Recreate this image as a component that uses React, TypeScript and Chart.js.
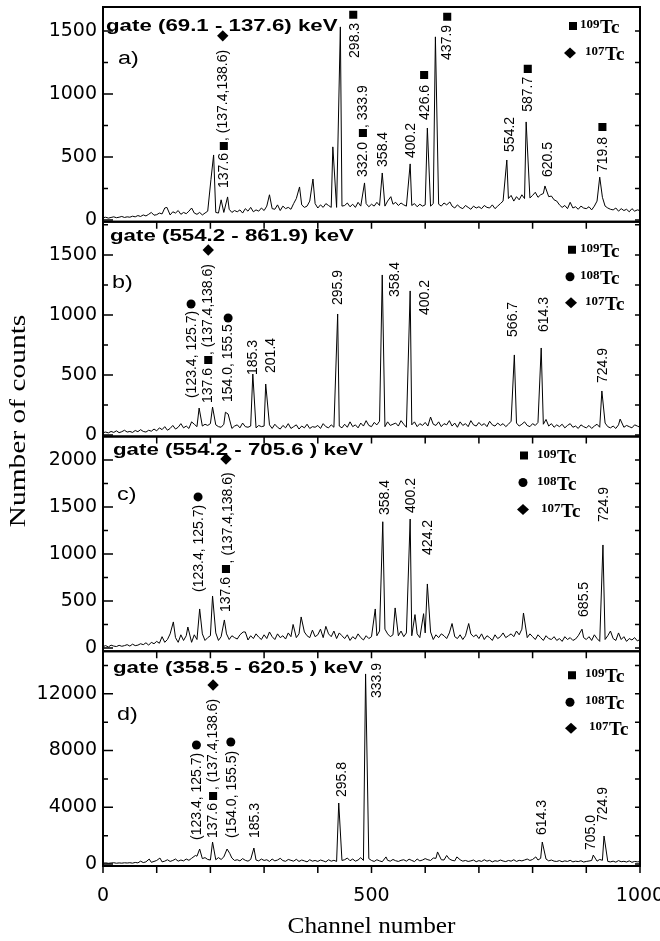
import { useEffect, useRef } from "react";
import { Chart, registerables } from "chart.js";
Chart.register(...registerables);

// ---------------- DATA ----------------
const CH_STEP = 5; // background counts read every 5 channels (channel 0 .. 1000)

const BG_A = [
  18, 22, 15, 20, 25, 18, 22, 28, 20, 25,
  22, 30, 25, 35, 28, 40, 32, 45, 60, 38,
  42, 55, 48, 95, 50, 40, 65, 55, 75, 45,
  60, 50, 70, 95, 55, 45, 60, 40, 55, 70,
  290, 120, 60, 55, 70, 60, 50, 85, 60, 75,
  65, 80, 55, 90, 70, 100, 65, 80, 70, 95,
  75, 110, 70, 90, 85, 120, 75, 110, 90, 100,
  85, 130, 170, 95, 120, 100, 110, 150, 105, 130,
  95, 120, 100, 130, 115, 100, 120, 100, 130, 110,
  115, 135, 105, 125, 100, 140, 110, 120, 130, 105,
  125, 110, 140, 115, 130, 110, 150, 180, 125, 140,
  115, 135, 120, 110, 140, 115, 130, 105, 125, 110,
  120, 100, 110, 130, 115, 125, 110, 135, 120, 143,
  110, 95, 120, 100, 90, 115, 100, 85, 110, 95,
  105, 90, 115, 100, 95, 120, 90, 110, 130, 150,
  200, 170, 195, 150, 185, 160, 200, 170, 210, 175,
  195, 220, 180, 200, 210, 170, 185, 190, 160, 150,
  120, 100, 115, 90, 140, 95, 105, 85, 110, 95,
  90, 105, 80, 110, 150, 130, 180, 110, 95, 85,
  80, 95, 70, 90, 75, 85, 65, 90, 70, 80,
  75,
];
const PEAKS_A: [number, number][] = [
  [119, 100], [201, 320], [206, 516], [220, 160], [232, 183], [310, 200], [366, 262],
  [391, 325], [428, 580], [442, 1532], [487, 294], [520, 373], [536, 185], [572, 445],
  [604, 730], [619, 1453], [646, 143], [752, 476], [788, 778], [823, 270], [925, 340],
];

const BG_B = [
  20, 25, 18, 30, 22, 35, 20, 28, 40, 25,
  30, 22, 38, 28, 45, 30, 25, 40, 32, 50,
  35, 60, 45, 70, 40, 55, 80, 50, 65, 95,
  60, 75, 55, 110, 90, 70, 100, 75, 90, 80,
  95, 60, 85, 70, 65, 90, 60, 80, 55, 75,
  85, 60, 100, 70, 65, 75, 90, 60, 80, 70,
  75, 60, 85, 55, 90, 65, 50, 80, 60, 95,
  55, 70, 85, 50, 75, 60, 90, 55, 70, 65,
  80, 55, 95, 70, 60, 85, 65, 100, 75, 60,
  90, 65, 110, 70, 85, 60, 100, 75, 120, 80,
  70, 105, 85, 115, 95, 70, 110, 80, 90, 100,
  75, 120, 90, 65, 100, 85, 110, 70, 95, 80,
  105, 75, 150, 90, 80, 110, 70, 95, 85, 120,
  75, 100, 65, 110, 80, 95, 70, 120, 85, 75,
  105, 80, 95, 70, 115, 85, 75, 100, 80, 95,
  70, 90, 115, 85, 100, 75, 90, 110, 80, 70,
  95, 80, 105, 70, 90, 130, 75, 95, 65, 85,
  70, 90, 60, 80, 95, 65, 75, 55, 85, 70,
  60, 80, 55, 75, 90, 65, 80, 100, 70, 60,
  75, 55, 85, 90, 65, 80, 70, 60, 85, 75,
  65,
];
const PEAKS_B: [number, number][] = [
  [179, 225], [204, 233], [228, 190], [233, 175], [279, 508], [303, 425], [437, 1008],
  [520, 1333], [572, 1200], [610, 150], [766, 667], [816, 725], [929, 367], [963, 133],
];

const BG_C = [
  15, 25, 10, 30, 20, 15, 28, 18, 25, 35,
  20, 40, 25, 30, 45, 35, 55, 30, 60, 45,
  70, 50, 120, 60, 90, 150, 70, 110, 60, 140,
  80, 130, 100, 60, 140, 90, 120, 150, 80, 110,
  130, 90, 160, 80, 120, 100, 150, 90, 130, 110,
  95, 140, 110, 170, 85, 130, 100, 150, 115, 90,
  140, 100, 170, 120, 90, 150, 110, 130, 95, 160,
  120, 250, 110, 150, 95, 170, 130, 110, 190, 120,
  140, 200, 110, 230, 150, 120, 180, 100, 160, 130,
  100, 140, 80, 120, 95, 150, 110, 85, 130, 100,
  120, 150, 130, 180, 110, 200, 150, 120, 140, 170,
  130, 180, 120, 160, 200, 130, 260, 150, 110, 140,
  160, 120, 170, 90, 140, 110, 150, 130, 100, 160,
  180, 120, 100, 140, 90, 130, 110, 150, 120, 140,
  100, 150, 90, 130, 110, 80, 140, 100, 120, 160,
  110, 130, 150, 120, 180, 140, 200, 130, 110, 150,
  120, 90, 140, 110, 80, 130, 100, 90, 120, 80,
  100, 70, 120, 90, 110, 80, 95, 130, 75, 110,
  90, 120, 80, 140, 100, 70, 110, 90, 130, 180,
  100, 80, 160, 90, 120, 70, 100, 85, 110, 75,
  90,
];
const PEAKS_C: [number, number][] = [
  [131, 277], [158, 223], [180, 415], [204, 553], [226, 298], [261, 170], [354, 250],
  [369, 330], [507, 415], [521, 1343], [544, 426], [572, 1372], [581, 355], [597, 365],
  [604, 681], [650, 260], [681, 260], [783, 372], [892, 200], [931, 1096],
];

const BG_D = [
  60, 80, 50, 70, 90, 55, 75, 60, 85, 70,
  90, 60, 110, 80, 200, 100, 150, 280, 120, 180,
  250, 380, 150, 200, 300, 180, 250, 350, 200, 280,
  220, 350, 260, 400, 300, 550, 280, 380, 450, 320,
  280, 350, 300, 450, 320, 500, 350, 280, 420, 250,
  300, 220, 380, 260, 200, 320, 500, 280, 220, 350,
  250, 300, 180, 350, 220, 280, 400, 240, 190, 320,
  260, 200, 330, 180, 280, 220, 150, 300, 200, 250,
  180, 280, 220, 150, 300, 200, 260, 180, 350, 250,
  300, 420, 230, 350, 200, 280, 450, 250, 300, 380,
  250, 180, 300, 220, 160, 450, 260, 200, 320, 230,
  180, 260, 300, 200, 340, 250, 170, 350, 220, 280,
  380, 300, 250, 420, 400, 400, 300, 280, 300, 350,
  260, 220, 500, 300, 200, 250, 180, 220, 280, 160,
  240, 180, 300, 200, 260, 150, 230, 190, 280, 210,
  170, 250, 200, 300, 180, 260, 220, 280, 350, 250,
  320, 500, 280, 400, 250, 350, 220, 280, 200, 180,
  240, 160, 220, 180, 260, 150, 200, 170, 230, 140,
  180, 210, 250, 160, 200, 320, 260, 230, 180, 150,
  200, 130, 240, 160, 190, 140, 220, 120, 180, 150,
  160,
];
const PEAKS_D: [number, number][] = [
  [86, 350], [106, 420], [172, 600], [180, 1057], [204, 1550], [231, 1057], [236, 750],
  [281, 1128], [439, 4300], [489, 13400], [527, 500], [623, 850], [640, 600], [659, 500],
  [806, 500], [818, 1550], [913, 630], [933, 1975],
];

// rotated peak labels: [text, channel, count at the bottom of the text]
const ANN_A: [string, number, number][] = [
  ["137.6", 225, 254], [", (137.4,138.6)", 223, 627], ["298.3", 469, 1286],
  ["332.0", 484, 341], [", 333.9", 484, 730], ["358.4", 521, 421], ["400.2", 574, 492],
  ["426.6", 600, 794], ["437.9", 641, 1270], ["554.2", 758, 540], ["587.7", 791, 858],
  ["620.5", 829, 341], ["719.8", 931, 381],
];
const ANN_B: [string, number, number][] = [
  ["(123.4, 125.7)", 166, 308], ["137.6", 196, 267], [", (137.4,138.6)", 196, 666],
  ["154.0, 155.5", 233, 275], ["185.3", 279, 500], ["201.4", 313, 517],
  ["295.9", 438, 1083], ["358.4", 544, 1150], ["400.2", 600, 1000],
  ["566.7", 764, 817], ["614.3", 821, 858], ["724.9", 931, 433],
];
const ANN_C: [string, number, number][] = [
  ["(123.4, 125.7)", 179, 596], ["137.6", 229, 383], [", (137.4,138.6)", 233, 900],
  ["358.4", 525, 1415], ["400.2", 574, 1436], ["424.2", 605, 990],
  ["685.5", 896, 330], ["724.9", 933, 1340],
];
const ANN_D: [string, number, number][] = [
  ["(123.4, 125.7)", 175, 1690], ["137.6", 205, 1830], [", (137.4,138.6)", 205, 5220],
  ["(154.0, 155.5)", 240, 1830], ["185.3", 283, 1830], ["295.8", 445, 4720],
  ["333.9", 510, 11700], ["614.3", 817, 2040], ["705.0", 909, 990], ["724.9", 931, 2960],
];

// isotope markers: [shape, channel, count]
const MARK_A: [string, number, number][] = [
  ["sq", 225, 587], ["di", 223, 1461], ["sq", 466, 1628], ["sq", 484, 690],
  ["sq", 598, 1151], ["sq", 641, 1612], ["sq", 791, 1199], ["sq", 930, 738],
];
const MARK_B: [string, number, number][] = [
  ["di", 196, 1541], ["ci", 164, 1091], ["sq", 196, 625], ["ci", 233, 975],
];
const MARK_C: [string, number, number][] = [
  ["di", 229, 2011], ["ci", 177, 1607], ["sq", 229, 840],
];
const MARK_D: [string, number, number][] = [
  ["di", 205, 12620], ["ci", 174, 8390], ["ci", 238, 8600], ["sq", 205, 4795],
];

const LEG_A: [string, string][] = [["109", "sq"], ["107", "di"]];
const LEG_BCD: [string, string][] = [["109", "sq"], ["108", "ci"], ["107", "di"]];

const TITLES = [
  "gate (69.1 - 137.6) keV",
  "gate (554.2 - 861.9) keV",
  "gate (554.2 - 705.6 ) keV",
  "gate (358.5 - 620.5 ) keV",
];
const TAGS = ["a)", "b)", "c)", "d)"];
const Y_MIN = [-14, -12, -35, -141];
const Y_MAX = [1690, 1776, 2250, 15000];
const Y_TICKS_A = [0, 250, 500, 750, 1000, 1250, 1500];
const Y_TICKS_B = [0, 250, 500, 750, 1000, 1250, 1500, 1750];
const Y_TICKS_C = [0, 250, 500, 750, 1000, 1250, 1500, 1750, 2000];
const Y_TICKS_D = [0, 2000, 4000, 6000, 8000, 10000, 12000, 14000];
const Y_TICKS = [Y_TICKS_A, Y_TICKS_B, Y_TICKS_C, Y_TICKS_D];
const Y_LABEL_STEP = [500, 500, 500, 4000];
const X_TICKS = [0, 100, 200, 300, 400, 500, 600, 700, 800, 900, 1000];
const X_LABELS = [0, 500, 1000];
const X_TITLE = "Channel number";
const Y_TITLE = "Number of counts";

// ---------------- STYLE (pixel placement of decorations) ----------------
const PANEL_STYLE = [
  { titleDx: 3, titleDy: 23.5, tagDx: 15, tagDy: 57, leg: [[-67, 19, -60], [-70, 46, -55]] },
  { titleDx: 7, titleDy: 19, tagDx: 9, tagDy: 66, leg: [[-68, 28, -60], [-70, 55, -60], [-69, 81, -55]] },
  { titleDx: 10, titleDy: 18, tagDx: 14, tagDy: 63, leg: [[-116, 19, -103], [-117, 46, -103], [-117, 73, -99]] },
  { titleDx: 10, titleDy: 22, tagDx: 14, tagDy: 69, leg: [[-68, 24, -55], [-70, 51, -55], [-69, 77, -51]] },
];
const SANS = '"DejaVu Sans", sans-serif';
const ARIAL = '"Liberation Sans", Arial, sans-serif';
const SERIF = '"Liberation Serif", "Times New Roman", serif';
const POINT_STYLE: Record<string, any> = { sq: "rect", ci: "circle", di: "rectRot" };
const POINT_RADIUS: Record<string, number> = { sq: 5.7, ci: 4.5, di: 5.7 };

const PANELS = [
  { id: "ya", bg: BG_A, peaks: PEAKS_A, ann: ANN_A, marks: MARK_A, leg: LEG_A },
  { id: "yb", bg: BG_B, peaks: PEAKS_B, ann: ANN_B, marks: MARK_B, leg: LEG_BCD },
  { id: "yc", bg: BG_C, peaks: PEAKS_C, ann: ANN_C, marks: MARK_C, leg: LEG_BCD },
  { id: "yd", bg: BG_D, peaks: PEAKS_D, ann: ANN_D, marks: MARK_D, leg: LEG_BCD },
];

function spectrum(bg: number[], peaks: [number, number][]) {
  const pts = bg
    .map((v, i) => ({ x: i * CH_STEP, y: v }))
    .filter((p) => !peaks.some(([c]) => Math.abs(c - p.x) <= 2));
  peaks.forEach(([c, v]) => pts.push({ x: c, y: v }));
  pts.sort((a, b) => a.x - b.x);
  return pts;
}

function stretchText(ctx: CanvasRenderingContext2D, txt: string, x: number, y: number, sx: number, font: string, align: CanvasTextAlign = "left") {
  ctx.save();
  ctx.font = font;
  ctx.textAlign = align;
  ctx.textBaseline = "alphabetic";
  ctx.translate(x, y);
  ctx.scale(sx, 1);
  ctx.fillText(txt, 0, 0);
  ctx.restore();
}

function drawShape(ctx: CanvasRenderingContext2D, shape: string, x: number, y: number) {
  ctx.beginPath();
  if (shape === "sq") ctx.rect(x - 4, y - 4, 8, 8);
  else if (shape === "ci") ctx.arc(x, y, 4.5, 0, Math.PI * 2);
  else {
    ctx.moveTo(x, y - 5.5);
    ctx.lineTo(x + 6, y);
    ctx.lineTo(x, y + 5.5);
    ctx.lineTo(x - 6, y);
    ctx.closePath();
  }
  ctx.fill();
}

const decor = {
  id: "decor",
  afterDraw(chart: any) {
    const ctx: CanvasRenderingContext2D = chart.ctx;
    const area = chart.chartArea;
    const xs = chart.scales.x;
    ctx.save();
    ctx.fillStyle = "#000";
    ctx.strokeStyle = "#000";
    PANELS.forEach((p, i) => {
      const ys = chart.scales[p.id];
      const st = PANEL_STYLE[i];
      // frame
      ctx.lineWidth = 2;
      ctx.strokeRect(area.left, ys.top, area.right - area.left, ys.bottom - ys.top);
      // ticks
      ctx.lineWidth = 1.5;
      ctx.beginPath();
      ys.ticks.forEach((t: any) => {
        const y = ys.getPixelForValue(t.value);
        const major = t.value % Y_LABEL_STEP[i] === 0;
        ctx.moveTo(area.left, y);
        ctx.lineTo(area.left + (major ? 10 : 5), y);
        ctx.moveTo(area.right, y);
        ctx.lineTo(area.right - 5, y);
      });
      xs.ticks.forEach((t: any) => {
        const x = xs.getPixelForValue(t.value);
        ctx.moveTo(x, ys.bottom);
        ctx.lineTo(x, ys.bottom + 7);
      });
      ctx.stroke();
      // rotated peak labels
      ctx.font = `14px ${ARIAL}`;
      ctx.textAlign = "left";
      ctx.textBaseline = "middle";
      p.ann.forEach(([txt, ch, cnt]) => {
        const x = xs.getPixelForValue(ch);
        const y = ys.getPixelForValue(cnt);
        ctx.save();
        ctx.translate(x, y);
        ctx.rotate(-Math.PI / 2);
        ctx.fillText(txt, 0, 0);
        ctx.restore();
      });
      // gate title and panel tag
      stretchText(ctx, TITLES[i], area.left + st.titleDx, ys.top + st.titleDy, 1.35, `bold 16.5px ${ARIAL}`);
      stretchText(ctx, TAGS[i], area.left + st.tagDx, ys.top + st.tagDy, 1.3, `18px ${ARIAL}`);
      // legend
      p.leg.forEach(([iso, shape], k) => {
        const [mdx, dy, tdx] = st.leg[k];
        const my = ys.top + dy;
        drawShape(ctx, shape, area.right + mdx, my);
        ctx.save();
        ctx.textAlign = "left";
        ctx.textBaseline = "alphabetic";
        ctx.font = `bold 13px ${SERIF}`;
        const tx = area.right + tdx;
        ctx.fillText(iso, tx, my + 2);
        const w = ctx.measureText(iso).width;
        ctx.font = `bold 19px ${SERIF}`;
        ctx.fillText("Tc", tx + w + 0.5, my + 7);
        ctx.restore();
      });
    });
    // axis titles
    stretchText(ctx, X_TITLE, (area.left + area.right) / 2, chart.height - 8, 1.1, `23px ${SERIF}`, "center");
    ctx.save();
    ctx.translate(25, 421);
    ctx.rotate(-Math.PI / 2);
    ctx.scale(1.28, 1);
    ctx.font = `23px ${SERIF}`;
    ctx.textAlign = "center";
    ctx.textBaseline = "alphabetic";
    ctx.fillText(Y_TITLE, 0, 0);
    ctx.restore();
    ctx.restore();
  },
};

export default function App() {
  const ref = useRef<HTMLCanvasElement | null>(null);
  useEffect(() => {
    document.body.style.margin = "0";
    if (!ref.current) return;
    const scales: any = {
      x: {
        type: "linear",
        min: 0,
        max: 1000,
        grid: { display: false, drawTicks: false },
        border: { display: false },
        afterBuildTicks: (s: any) => {
          s.ticks = X_TICKS.map((v) => ({ value: v }));
        },
        ticks: {
          autoSkip: false,
          maxRotation: 0,
          padding: 19,
          color: "#000",
          font: { family: SANS, size: 19 },
          callback: (v: any) => (X_LABELS.includes(v) ? String(v) : ""),
        },
        afterFit: (s: any) => {
          s.height = 75;
          s.paddingLeft = 0;
          s.paddingRight = 0;
        },
      },
    };
    PANELS.forEach((p, i) => {
      scales[p.id] = {
        type: "linear",
        position: "left",
        stack: "panels",
        stackWeight: 1,
        weight: 4 - i,
        min: Y_MIN[i],
        max: Y_MAX[i],
        grid: { display: false, drawTicks: false },
        border: { display: false },
        afterBuildTicks: (s: any) => {
          s.ticks = Y_TICKS[i].map((v) => ({ value: v }));
        },
        ticks: {
          autoSkip: false,
          padding: 6,
          color: "#000",
          font: { family: SANS, size: 19 },
          callback: (v: any) => (v % Y_LABEL_STEP[i] === 0 ? String(v) : ""),
        },
        afterFit: (s: any) => {
          s.width = 103;
          s.paddingTop = 0;
          s.paddingBottom = 0;
        },
      };
    });
    const datasets: any[] = [];
    PANELS.forEach((p) => {
      ["sq", "ci", "di"].forEach((shape) => {
        const pts = p.marks.filter((m) => m[0] === shape).map((m) => ({ x: m[1], y: m[2] }));
        if (!pts.length) return;
        datasets.push({
          type: "scatter",
          data: pts,
          yAxisID: p.id,
          showLine: false,
          pointStyle: POINT_STYLE[shape],
          pointRadius: POINT_RADIUS[shape],
          pointBackgroundColor: "#000",
          pointBorderWidth: 0,
        });
      });
    });
    PANELS.forEach((p) => {
      datasets.push({
        type: "line",
        data: spectrum(p.bg, p.peaks),
        yAxisID: p.id,
        borderColor: "#000",
        borderWidth: 1,
        pointRadius: 0,
        tension: 0,
        fill: false,
      });
    });
    const chart = new Chart(ref.current, {
      type: "line",
      data: { datasets },
      options: {
        animation: false,
        responsive: false,
        events: [],
        layout: { padding: { top: 7, right: 20, left: 0, bottom: 0 } },
        plugins: { legend: { display: false }, tooltip: { enabled: false } },
        scales,
      },
      plugins: [decor],
    });
    return () => chart.destroy();
  }, []);
  return (
    <div style={{ width: 660, height: 941, background: "#fff" }}>
      <canvas ref={ref} width={660} height={941} style={{ display: "block" }} />
    </div>
  );
}
